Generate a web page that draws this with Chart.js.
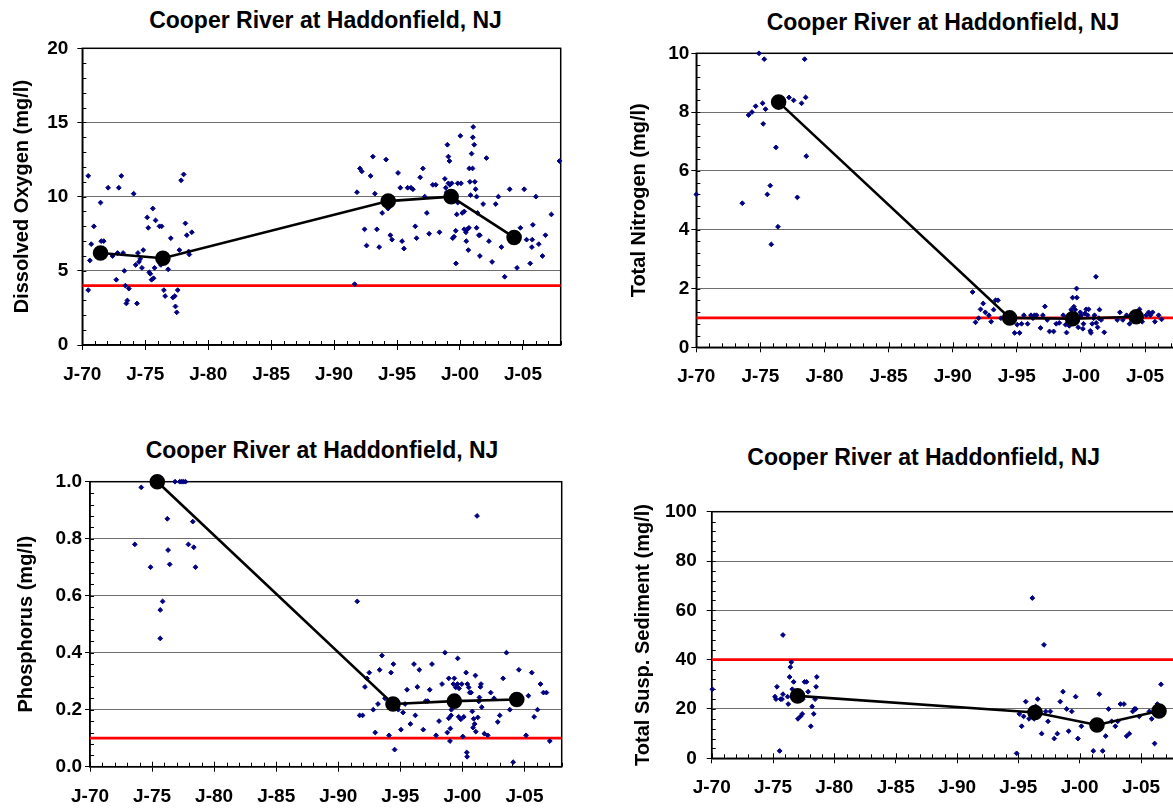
<!DOCTYPE html>
<html>
<head>
<meta charset="utf-8">
<script src="https://cdn.jsdelivr.net/npm/chart.js@4.4.0/dist/chart.umd.min.js"></script>
<style>
  html, body { margin: 0; padding: 0; background: #fff; overflow: hidden; }
  body { width: 1173px; height: 808px; position: relative; }
  canvas { position: absolute; }
  .title { position: absolute; font: bold 23px 'Liberation Sans', Arial, sans-serif; line-height: 23px; white-space: nowrap; transform: translateX(-50%); color: #000; }
</style>
</head>
<body>
<div class="title" style="left:325.5px;top:9px">Cooper River at Haddonfield, NJ</div>
<div class="title" style="left:943px;top:11px">Cooper River at Haddonfield, NJ</div>
<div class="title" style="left:322px;top:439px">Cooper River at Haddonfield, NJ</div>
<div class="title" style="left:923.7px;top:445.5px">Cooper River at Haddonfield, NJ</div>
<canvas id="doChart" width="590" height="400" style="left:0;top:0"></canvas>
<canvas id="tnChart" width="600" height="400" style="left:600px;top:0"></canvas>
<canvas id="tpChart" width="590" height="378" style="left:0;top:430px"></canvas>
<canvas id="tssChart" width="600" height="368" style="left:600px;top:440px"></canvas>
<script>
// shared time axis (decimal years)
const X_MIN = 1970;
const X_MAX = 2008;
const X_TICK_YEARS = [1970, 1975, 1980, 1985, 1990, 1995, 2000, 2005];
const X_TICK_LABELS = ['J-70', 'J-75', 'J-80', 'J-85', 'J-90', 'J-95', 'J-00', 'J-05'];

// Dissolved oxygen
const DO_YEARS = [1970.47, 1971.45, 1970.92, 1970.71, 1970.6, 1970.47, 1971.5, 1971.7, 1972.05, 1972.4, 1972.7, 1972.8, 1972.9, 1973.1, 1973.24, 1973.34, 1973.42, 1973.5, 1973.58, 1973.7, 1974.08, 1974.24, 1974.34, 1974.42, 1974.5, 1974.6, 1974.74, 1974.84, 1975.16, 1975.24, 1975.32, 1975.4, 1975.5, 1975.6, 1975.66, 1975.74, 1975.82, 1976.13, 1976.3, 1976.24, 1976.48, 1976.58, 1976.82, 1977.03, 1977.19, 1977.35, 1977.4, 1977.5, 1977.58, 1977.71, 1977.85, 1978.05, 1978.19, 1978.3, 1978.45, 1978.5, 1978.7,
  1991.63, 1991.82, 1992.05, 1992.2, 1992.42, 1992.58, 1992.9, 1993.08, 1993.24, 1993.4, 1993.58, 1993.82, 1994.13, 1994.29, 1994.47, 1994.6, 1995.08, 1995.26, 1995.4, 1995.55, 1995.84, 1996.1, 1996.26, 1996.45, 1996.55, 1996.84, 1997.05, 1997.2, 1997.37, 1997.55, 1997.84, 1998.08, 1998.37, 1998.8, 1998.87, 1998.95, 1999.0, 1999.08, 1999.16, 1999.08, 1999.2, 1999.34, 1999.42, 1999.53, 1999.66, 1999.68, 1999.74, 1999.82, 1999.82, 2000.03, 2000.08, 2000.18, 2000.34, 2000.34, 2000.47, 2000.5, 2000.58, 2000.66, 2000.71, 2000.74, 2000.79, 2000.84, 2000.92, 2001.0, 2001.02, 2001.05, 2001.13, 2001.18, 2001.24, 2001.32, 2001.32, 2001.39, 2001.5, 2001.58, 2001.58, 2001.84, 2002.1, 2002.3, 2002.55, 2002.84, 2003.05, 2003.29, 2003.55, 2003.95, 2004.53, 2004.8, 2005.1, 2005.29, 2005.58, 2005.71, 2005.74, 2005.79, 2006.03, 2006.26, 2006.55, 2006.79, 2007.26, 2007.9];
const DO_VALUES = [11.4, 9.6, 8.0, 6.8, 5.7, 3.7, 7.0, 7.0, 10.6, 6.0, 4.4, 6.2, 10.6, 11.4, 6.2, 5.0, 4.0, 2.8, 3.0, 3.8, 10.2, 5.4, 2.8, 6.2, 5.6, 5.8, 5.2, 6.4, 8.6, 7.9, 4.9, 4.8, 4.4, 9.2, 4.5, 5.2, 8.4, 8.0, 8.0, 5.4, 3.7, 3.3, 5.1, 7.2, 3.2, 3.3, 2.6, 2.2, 3.7, 6.4, 11.1, 11.5, 8.2, 7.4, 6.3, 6.1, 7.6,
  4.1, 10.3, 11.9, 11.7, 7.8, 6.7, 11.4, 12.7, 10.2, 7.8, 6.6, 8.9, 12.5, 9.2, 7.4, 7.1, 11.6, 10.6, 7.0, 6.5, 10.6, 10.6, 10.5, 8.0, 7.2, 11.3, 11.9, 10.0, 8.9, 7.5, 10.8, 10.8, 7.6, 11.2, 10.6, 10.3, 13.5, 12.7, 12.4, 10.9, 10.8, 10.9, 7.2, 7.3, 7.7, 5.5, 8.8, 9.6, 10.9, 14.1, 10.9, 8.9, 9.0, 7.8, 7.6, 7.0, 7.8, 6.4, 7.9, 11.9, 11.0, 10.1, 12.9, 11.9, 14.0, 14.7, 13.5, 11.0, 10.5, 10.0, 7.9, 8.9, 7.4, 7.4, 6.0, 9.5, 12.6, 7.0, 5.6, 9.5, 10.0, 6.6, 4.6, 10.5, 5.2, 7.9, 10.5, 7.1, 5.5, 6.6, 7.1, 8.1, 10.0, 6.8, 6.0, 7.4, 8.8, 12.4];
const DO_MEAN_YEARS = [1971.45, 1976.4, 1994.3, 1999.3, 2004.3];
const DO_MEAN_VALUES = [6.2, 5.85, 9.7, 10.0, 7.25];
const DO_STANDARD = 4;
const DO_Y_TICKS = [0, 5, 10, 15, 20];
const DO_Y_LABELS = ['0', '5', '10', '15', '20'];

// Total nitrogen
const TN_YEARS = [1970.0, 1973.59, 1974.08, 1974.34, 1974.63, 1974.89, 1975.17, 1975.22, 1975.3, 1975.4, 1975.54, 1975.77, 1975.85, 1976.21, 1976.37, 1977.23, 1977.59, 1977.88, 1978.21, 1978.45, 1978.53, 1978.58,
  1991.55, 1991.78, 1992.02, 1992.17, 1992.38, 1992.54, 1992.82, 1993.0, 1993.19, 1993.34, 1993.53, 1993.76, 1994.83, 1995.03, 1995.22, 1995.37, 1995.55, 1995.84, 1996.1, 1996.26, 1996.38, 1996.54, 1996.85, 1997.03, 1997.19, 1997.37, 1997.55, 1997.87, 1998.07, 1998.31, 1998.62, 1998.8, 1998.88, 1999.09, 1999.24, 1999.35, 1999.45, 1999.56, 1999.68, 1999.66, 1999.5, 1999.79, 1999.95, 2000.02, 2000.15, 2000.2, 2000.31, 2000.41, 2000.52, 2000.6, 2000.73, 2000.78, 2000.88, 2000.99, 2001.06, 2001.17, 2001.19, 2001.3, 2001.4, 2001.45, 2001.58, 2001.82, 2002.83, 2003.04, 2003.27, 2003.56, 2003.79, 2004.0, 2004.57, 2004.78, 2005.09, 2005.28, 2005.41, 2005.59, 2005.77, 2006.06, 2006.29];
const TN_VALUES = [5.2, 4.9, 7.9, 8.0, 8.2, 10.0, 8.3, 7.6, 9.8, 8.1, 5.2, 5.5, 3.5, 6.8, 4.1, 8.5, 8.4, 5.1, 8.3, 9.8, 8.5, 6.5,
  1.88, 0.85, 0.99, 1.29, 1.49, 1.19, 1.09, 0.87, 1.28, 1.6, 1.6, 0.99, 0.49, 0.77, 0.49, 0.8, 1.09, 0.8, 1.09, 0.99, 1.09, 1.09, 0.66, 1.09, 1.39, 0.93, 0.54, 0.54, 0.8, 0.83, 1.09, 0.77, 0.5, 0.73, 1.28, 1.69, 1.38, 1.28, 1.69, 2.0, 1.08, 0.68, 1.19, 1.09, 0.63, 0.8, 1.15, 1.29, 1.09, 1.29, 0.56, 0.49, 0.8, 0.99, 1.09, 2.4, 0.83, 0.68, 0.99, 1.28, 0.93, 0.51, 0.93, 1.19, 0.93, 1.09, 0.8, 1.09, 1.29, 0.87, 1.09, 1.19, 1.09, 1.19, 0.87, 1.09, 0.95];
const TN_MEAN_YEARS = [1976.42, 1994.44, 1999.35, 2004.31];
const TN_MEAN_VALUES = [8.34, 1.0, 0.97, 1.04];
const TN_STANDARD = 1;
const TN_Y_TICKS = [0, 2, 4, 6, 8, 10];
const TN_Y_LABELS = ['0', '2', '4', '6', '8', '10'];

// Phosphorus
const TP_YEARS = [1973.61, 1974.13, 1974.88, 1975.66, 1975.66, 1975.85, 1976.23, 1976.29, 1976.42, 1976.85, 1977.23, 1977.39, 1977.53, 1977.69, 1977.93, 1978.28, 1978.36, 1978.5,
  1991.53, 1991.72, 1991.96, 1992.15, 1992.31, 1992.5, 1992.82, 1992.98, 1993.2, 1993.33, 1993.52, 1993.76, 1994.09, 1994.25, 1994.44, 1994.54, 1994.84, 1995.05, 1995.22, 1995.38, 1995.54, 1995.81, 1996.1, 1996.21, 1996.37, 1996.53, 1996.85, 1997.04, 1997.2, 1997.37, 1997.55, 1997.88, 1998.12, 1998.36, 1998.6, 1998.79, 1998.9, 1998.9, 1999.0, 1999.03, 1999.09, 1999.11, 1999.27, 1999.35, 1999.46, 1999.6, 1999.62, 1999.7, 1999.73, 1999.87, 1999.95, 2000.03, 2000.11, 2000.3, 2000.35, 2000.38, 2000.4, 2000.51, 2000.59, 2000.7, 2000.8, 2000.86, 2000.91, 2000.99, 2001.05, 2001.08, 2001.18, 2001.24, 2001.32, 2001.37, 2001.45, 2001.5, 2001.56, 2001.77, 2002.04, 2002.28, 2002.55, 2002.85, 2003.01, 2003.28, 2003.55, 2003.82, 2004.09, 2004.55, 2005.13, 2005.32, 2005.59, 2005.78, 2006.05, 2006.29, 2006.53, 2006.77, 2007.04];
const TP_VALUES = [0.78, 0.98, 0.70, 0.45, 0.55, 0.58, 0.87, 0.76, 0.71, 1.0, 1.0, 1.0, 1.0, 1.0, 0.78, 0.86, 0.77, 0.70,
  0.58, 0.18, 0.18, 0.28, 0.31, 0.33, 0.20, 0.12, 0.22, 0.34, 0.39, 0.24, 0.11, 0.33, 0.36, 0.06, 0.20, 0.13, 0.19, 0.22, 0.27, 0.15, 0.36, 0.18, 0.28, 0.34, 0.13, 0.23, 0.23, 0.27, 0.36, 0.11, 0.16, 0.29, 0.40, 0.12, 0.31, 0.17, 0.09, 0.134, 0.18, 0.20, 0.29, 0.31, 0.278, 0.29, 0.38, 0.175, 0.275, 0.166, 0.29, 0.106, 0.175, 0.33, 0.05, 0.035, 0.29, 0.278, 0.26, 0.26, 0.194, 0.137, 0.168, 0.15, 0.32, 0.123, 0.88, 0.173, 0.229, 0.243, 0.28, 0.29, 0.209, 0.116, 0.11, 0.26, 0.24, 0.157, 0.18, 0.31, 0.40, 0.20, 0.016, 0.34, 0.11, 0.249, 0.33, 0.175, 0.20, 0.29, 0.26, 0.26, 0.09];
const TP_MEAN_YEARS = [1975.42, 1994.41, 1999.35, 2004.38];
const TP_MEAN_VALUES = [1.0, 0.22, 0.23, 0.236];
const TP_STANDARD = 0.1;
const TP_Y_TICKS = [0, 0.2, 0.4, 0.6, 0.8, 1.0];
const TP_Y_LABELS = ['0.0', '0.2', '0.4', '0.6', '0.8', '1.0'];

// Total suspended sediment
const TSS_YEARS = [1970.05, 1975.16, 1975.24, 1975.32, 1975.54, 1975.62, 1975.73, 1975.81, 1975.81, 1976.19, 1976.24, 1976.35, 1976.41, 1976.49, 1976.57, 1976.68, 1977.03, 1977.24, 1977.38, 1977.43, 1977.57, 1977.73, 1977.86, 1978.08, 1978.19, 1978.32, 1978.43, 1978.51, 1978.57,
  1994.86, 1995.08, 1995.27, 1995.43, 1995.6, 1995.87, 1996.14, 1996.28, 1996.41, 1996.58, 1996.9, 1997.09, 1997.23, 1997.42, 1997.61, 1997.93, 1998.18, 1998.42, 1998.64, 1998.94, 1999.1, 1999.35, 1999.67, 1999.86, 2000.14, 2001.11, 2001.6, 2001.88, 2002.12, 2002.36, 2002.61, 2002.91, 2003.1, 2003.32, 2003.61, 2003.83, 2004.05, 2004.32, 2004.46, 2004.57, 2004.86, 2005.68, 2005.87, 2006.11, 2006.33, 2006.63];
const TSS_VALUES = [28, 25, 24, 29, 3, 24, 24, 50, 26, 25, 22, 33, 37, 39, 28, 31, 16, 17, 18, 24, 31, 31, 27, 13, 21, 18, 24, 29, 33,
  2, 18, 13, 17, 23, 16, 65, 16, 21, 24, 10, 46, 19, 15, 19, 8, 10, 23, 27, 20, 11, 19, 25, 8, 13, 3, 26, 3, 9, 20, 15, 13, 15, 22, 22, 9, 10, 19, 20, 20, 17, 19, 16, 6, 22, 30];
const TSS_MEAN_YEARS = [1977.0, 1996.36, 2001.41, 2006.47];
const TSS_MEAN_VALUES = [25.3, 18.6, 13.5, 19.2];
const TSS_STANDARD = 40;
const TSS_Y_TICKS = [0, 20, 40, 60, 80, 100];
const TSS_Y_LABELS = ['0', '20', '40', '60', '80', '100'];

const FONT = "'Liberation Sans', Arial, sans-serif";

const frameAndMinorTicks = {
  id: 'frameAndMinorTicks',
  beforeDatasetsDraw(chart, args, opts) {
    const { ctx, chartArea: a, scales: { x, y } } = chart;
    ctx.save();
    ctx.strokeStyle = '#000';
    ctx.lineWidth = 1.5;
    ctx.strokeRect(a.left, a.top, a.right - a.left, a.bottom - a.top);
    ctx.lineWidth = 1;
    ctx.beginPath();
    for (let k = 0; x.min + k * opts.xMinor <= x.max; k++) {
      const v = x.min + k * opts.xMinor;
      const px = Math.round(x.getPixelForValue(v)) + 0.5;
      const len = X_TICK_YEARS.includes(v) ? 5 : 4;
      ctx.moveTo(px, a.bottom);
      ctx.lineTo(px, a.bottom - len);
    }
    for (let k = 1; y.min + k * opts.yMinor < y.max - 1e-9; k++) {
      const py = Math.round(y.getPixelForValue(y.min + k * opts.yMinor)) + 0.5;
      ctx.moveTo(a.left, py);
      ctx.lineTo(a.left + 4, py);
    }
    ctx.stroke();
    ctx.restore();
  }
};

function pairs(xs, ys) {
  return xs.map((x, i) => ({ x, y: ys[i] }));
}

function buildChart(id, c) {
  const yMax = c.yTicks[c.yTicks.length - 1];
  return new Chart(document.getElementById(id), {
    type: 'scatter',
    data: {
      datasets: [
        {
          data: pairs(c.meanYears, c.meanValues), showLine: true,
          borderColor: '#000', borderWidth: 2.6, pointRadius: 6.5,
          pointBackgroundColor: '#000', pointBorderColor: '#000', clip: false,
        },
        {
          data: pairs(c.years, c.values), pointStyle: 'rectRot', pointRadius: 2.4,
          backgroundColor: '#000080', borderColor: '#000080', borderWidth: 1, clip: false,
        },
        {
          data: [{ x: X_MIN, y: c.standard }, { x: X_MAX, y: c.standard }], showLine: true,
          borderColor: '#ff0000', borderWidth: 2.8, pointRadius: 0,
        },
      ],
    },
    options: {
      responsive: false,
      animation: false,
      events: [],
      layout: { autoPadding: false, padding: c.padding },
      plugins: {
        legend: { display: false },
        tooltip: { enabled: false },
        frameAndMinorTicks: { xMinor: 1, yMinor: c.yMinor },
      },
      scales: {
        x: {
          type: 'linear', min: X_MIN, max: X_MAX,
          afterBuildTicks: s => { s.ticks = X_TICK_YEARS.map(v => ({ value: v })); },
          afterFit: s => { s.height = c.xAxisHeight; },
          ticks: {
            callback: (v, i) => X_TICK_LABELS[i],
            font: { family: FONT, size: 19, weight: 'bold' }, color: '#000',
            padding: c.xPad, maxRotation: 0, autoSkip: false,
          },
          grid: { drawOnChartArea: false, drawTicks: true, tickLength: 5, tickColor: '#000', tickWidth: 1 },
          border: { color: '#000', width: 1.5 },
        },
        y: {
          type: 'linear', min: c.yTicks[0], max: yMax,
          afterBuildTicks: s => { s.ticks = c.yTicks.map(v => ({ value: v })); },
          afterFit: s => { s.width = c.yAxisWidth; },
          ticks: {
            callback: (v, i) => c.yLabels[i],
            font: { family: FONT, size: 19, weight: 'bold' }, color: '#000', padding: c.yPad,
          },
          grid: {
            color: ctx => (ctx.tick && ctx.tick.value === yMax ? '#000' : '#6e6e6e'),
            lineWidth: 1, tickLength: 5, tickColor: '#000',
          },
          border: { color: '#000', width: 1.5 },
          title: {
            display: true, text: c.yTitle, color: '#000',
            font: { family: FONT, size: 20, weight: 'bold' }, padding: { top: 4, bottom: 0 },
          },
        },
      },
    },
    plugins: [frameAndMinorTicks],
  });
}

buildChart('doChart', {
  years: DO_YEARS, values: DO_VALUES, meanYears: DO_MEAN_YEARS, meanValues: DO_MEAN_VALUES,
  standard: DO_STANDARD, yTicks: DO_Y_TICKS, yLabels: DO_Y_LABELS, yMinor: 1,
  yTitle: 'Dissolved Oxygen (mg/l)',
  padding: { left: 6, top: 48.3, right: 29.3, bottom: 10 }, yAxisWidth: 76.3, xAxisHeight: 45,
  yPad: 9, xPad: 13,
});
buildChart('tnChart', {
  years: TN_YEARS, values: TN_VALUES, meanYears: TN_MEAN_YEARS, meanValues: TN_MEAN_VALUES,
  standard: TN_STANDARD, yTicks: TN_Y_TICKS, yLabels: TN_Y_LABELS, yMinor: 0.4,
  yTitle: 'Total Nitrogen (mg/l)',
  padding: { left: 23, top: 53.3, right: 16.5, bottom: 10 }, yAxisWidth: 73.3, xAxisHeight: 42.7,
  yPad: 2, xPad: 13.5,
});
buildChart('tpChart', {
  years: TP_YEARS, values: TP_VALUES, meanYears: TP_MEAN_YEARS, meanValues: TP_MEAN_VALUES,
  standard: TP_STANDARD, yTicks: TP_Y_TICKS, yLabels: TP_Y_LABELS, yMinor: 0.04,
  yTitle: 'Phosphorus (mg/l)',
  padding: { left: 10.7, top: 51.7, right: 28.3, bottom: 6 }, yAxisWidth: 79.3, xAxisHeight: 35.3,
  yPad: 3, xPad: 14,
});
buildChart('tssChart', {
  years: TSS_YEARS, values: TSS_VALUES, meanYears: TSS_MEAN_YEARS, meanValues: TSS_MEAN_VALUES,
  standard: TSS_STANDARD, yTicks: TSS_Y_TICKS, yLabels: TSS_Y_LABELS, yMinor: 4,
  yTitle: 'Total Susp. Sediment (mg/l)',
  padding: { left: 27.3, top: 71.7, right: 22.2, bottom: 6 }, yAxisWidth: 84.4, xAxisHeight: 43.7,
  yPad: 10, xPad: 13.3,
});
</script>
</body>
</html>
